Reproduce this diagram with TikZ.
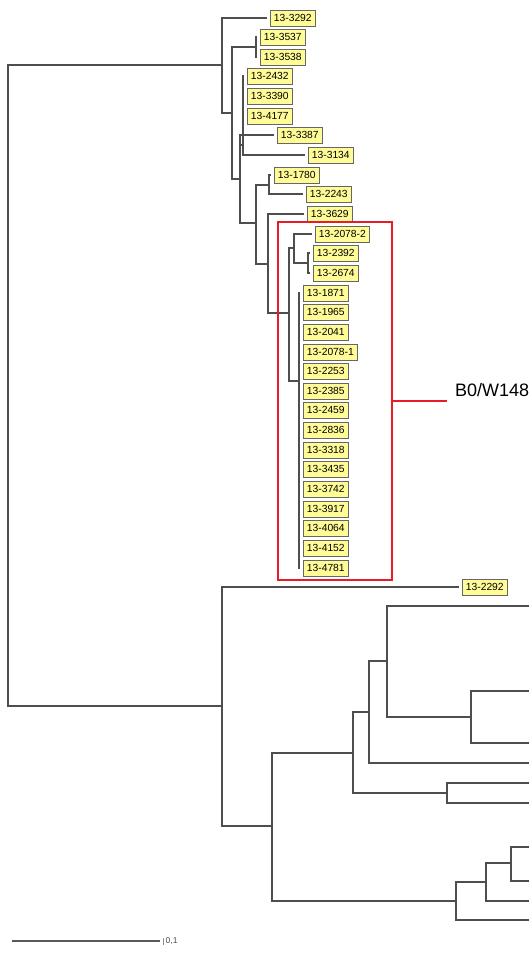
\documentclass[tikz,border=0pt]{standalone}
\usepackage{fontspec}
\setmainfont{Liberation Sans}
\usetikzlibrary{shadows}
\definecolor{lab}{RGB}{255,251,150}
\definecolor{brc}{RGB}{78,78,78}
\definecolor{rbc}{RGB}{232,28,36}
\begin{document}
\begin{tikzpicture}[x=1pt,y=-1pt,
  leaf/.style={anchor=west, draw=black!60, line width=0.6pt, fill=lab,
    font=\fontsize{10.3}{12}\selectfont, inner xsep=3.6pt, inner ysep=0pt,
    minimum height=16pt,
    drop shadow={shadow xshift=1pt, shadow yshift=-1pt, fill=black!75, opacity=1}},
  edge/.style={draw=brc, line width=1.3pt},
  tip/.style={edge, shorten >=3.5pt},
  redline/.style={draw=rbc, line width=2pt}]
\useasboundingbox (0,0) rectangle (529,956);

% ---------- leaves (upper clade) ----------
\node[leaf] (l3292) at (270,18) {13-3292};
\node[leaf] (l3537) at (260,37) {13-3537};
\node[leaf] (l3538) at (260,57) {13-3538};
\node[leaf] (l2432) at (247,76) {13-2432};
\node[leaf] (l3390) at (247,96) {13-3390};
\node[leaf] (l4177) at (247,116) {13-4177};
\node[leaf] (l3387) at (277,135) {13-3387};
\node[leaf] (l3134) at (308,155) {13-3134};
\node[leaf] (l1780) at (274,175) {13-1780};
\node[leaf] (l2243) at (306,194) {13-2243};
\node[leaf] (l3629) at (307,214) {13-3629};
\node[leaf] (l2078b) at (315,234) {13-2078-2};
\node[leaf] (l2392) at (313,253) {13-2392};
\node[leaf] (l2674) at (313,273) {13-2674};
\foreach \lab/\nm [count=\i from 14] in
  {1871/a,1965/b,2041/c,2078-1/d,2253/e,2385/f,2459/g,2836/h,3318/i,3435/j,3742/k,3917/l,4064/m,4152/n,4781/o}
  \node[leaf] (p\nm) at (303,{round(17.5+19.65*\i)}) {13-\lab};
\node[leaf] (l2292) at (462,587) {13-2292};

% ---------- internal nodes ----------
\coordinate (root) at (8,385);
\coordinate (A) at (222,65);
\coordinate (B) at (232,113);
\coordinate (C) at (256,47);
\coordinate (D) at (240,179);
\coordinate (E) at (243,145);
\coordinate (F) at (256,223);
\coordinate (G) at (269,185);
\coordinate (H) at (268,264);
\coordinate (I) at (289,313);
\coordinate (J) at (294,248);
\coordinate (L) at (308,263);
\coordinate (K) at (299,381);
\coordinate (M) at (222,706);
\coordinate (N) at (272,826);
\coordinate (O) at (353,753);
\coordinate (P) at (456,901);
\coordinate (Q) at (369,712);
\coordinate (Rr) at (447,793);
\coordinate (S) at (387,661);
\coordinate (T) at (471,717);
\coordinate (U) at (486,882);
\coordinate (V) at (511,863);
% free ends at the right edge
\coordinate (e1) at (533,763);
\coordinate (e2) at (533,606);
\coordinate (e3) at (533,691);
\coordinate (e4) at (533,743);
\coordinate (e5) at (533,783);
\coordinate (e6) at (533,803);
\coordinate (e7) at (533,920);
\coordinate (e8) at (533,901);
\coordinate (e9) at (533,847);
\coordinate (e10) at (533,881);

% ---------- branches ----------
\draw[edge] (root) |- (A);
\draw[edge] (root) |- (M);
\draw[tip] (A) |- (l3292.west);
\draw[edge] (A) |- (B);
\draw[edge] (B) |- (C);
\draw[edge] (B) |- (D);
\draw[tip] (C) |- (l3537.west);
\draw[tip] (C) |- (l3538.west);
\draw[tip] (D) |- (l3387.west);
\draw[edge] (D) |- (E);
\draw[edge] (D) |- (F);
\foreach \n in {l2432,l3390,l4177,l3134} \draw[tip] (E) |- (\n.west);
\draw[edge] (F) |- (G);
\draw[edge] (F) |- (H);
\draw[tip] (G) |- (l1780.west);
\draw[tip] (G) |- (l2243.west);
\draw[tip] (H) |- (l3629.west);
\draw[edge] (H) |- (I);
\draw[edge] (I) |- (J);
\draw[edge] (I) |- (K);
\draw[tip] (J) |- (l2078b.west);
\draw[edge] (J) |- (L);
\draw[tip] (L) |- (l2392.west);
\draw[tip] (L) |- (l2674.west);
\foreach \nm in {a,b,c,d,e,f,g,h,i,j,k,l,m,n,o} \draw[tip] (K) |- (p\nm.west);

\draw[tip] (M) |- (l2292.west);
\draw[edge] (M) |- (N);
\draw[edge] (N) |- (O);
\draw[edge] (N) |- (P);
\draw[edge] (O) |- (Q);
\draw[edge] (O) |- (Rr);
\draw[edge] (Q) |- (S);
\draw[edge] (Q) |- (e1);
\draw[edge] (S) |- (e2);
\draw[edge] (S) |- (T);
\draw[edge] (T) |- (e3);
\draw[edge] (T) |- (e4);
\draw[edge] (Rr) |- (e5);
\draw[edge] (Rr) |- (e6);
\draw[edge] (P) |- (U);
\draw[edge] (P) |- (e7);
\draw[edge] (U) |- (V);
\draw[edge] (U) |- (e8);
\draw[edge] (V) |- (e9);
\draw[edge] (V) |- (e10);

% ---------- highlighted clade ----------
\node[redline, draw, anchor=north west, inner sep=0pt,
      minimum width=114pt, minimum height=358pt] (rbox) at (277,221) {};
\node[anchor=base west, inner sep=0pt, font=\fontsize{18}{20}\selectfont] (clade) at (455,396) {B0/W148};
\draw[redline] (rbox.east) -- ([xshift=-8pt]rbox.east -| clade.west);

% ---------- scale bar ----------
\coordinate (s0) at (12,941);
\coordinate (s1) at (160,941);
\draw[draw=black!65, line width=1.1pt] (s0) -- (s1);
\draw[draw=black!45, line width=0.6pt] (163.5,938) -- (163.5,944.5);
\node[anchor=west, inner sep=0pt, text=black!70, font=\fontsize{8.5}{9}\selectfont] (sl) at (165.5,941) {0,1};
\end{tikzpicture}
\end{document}
